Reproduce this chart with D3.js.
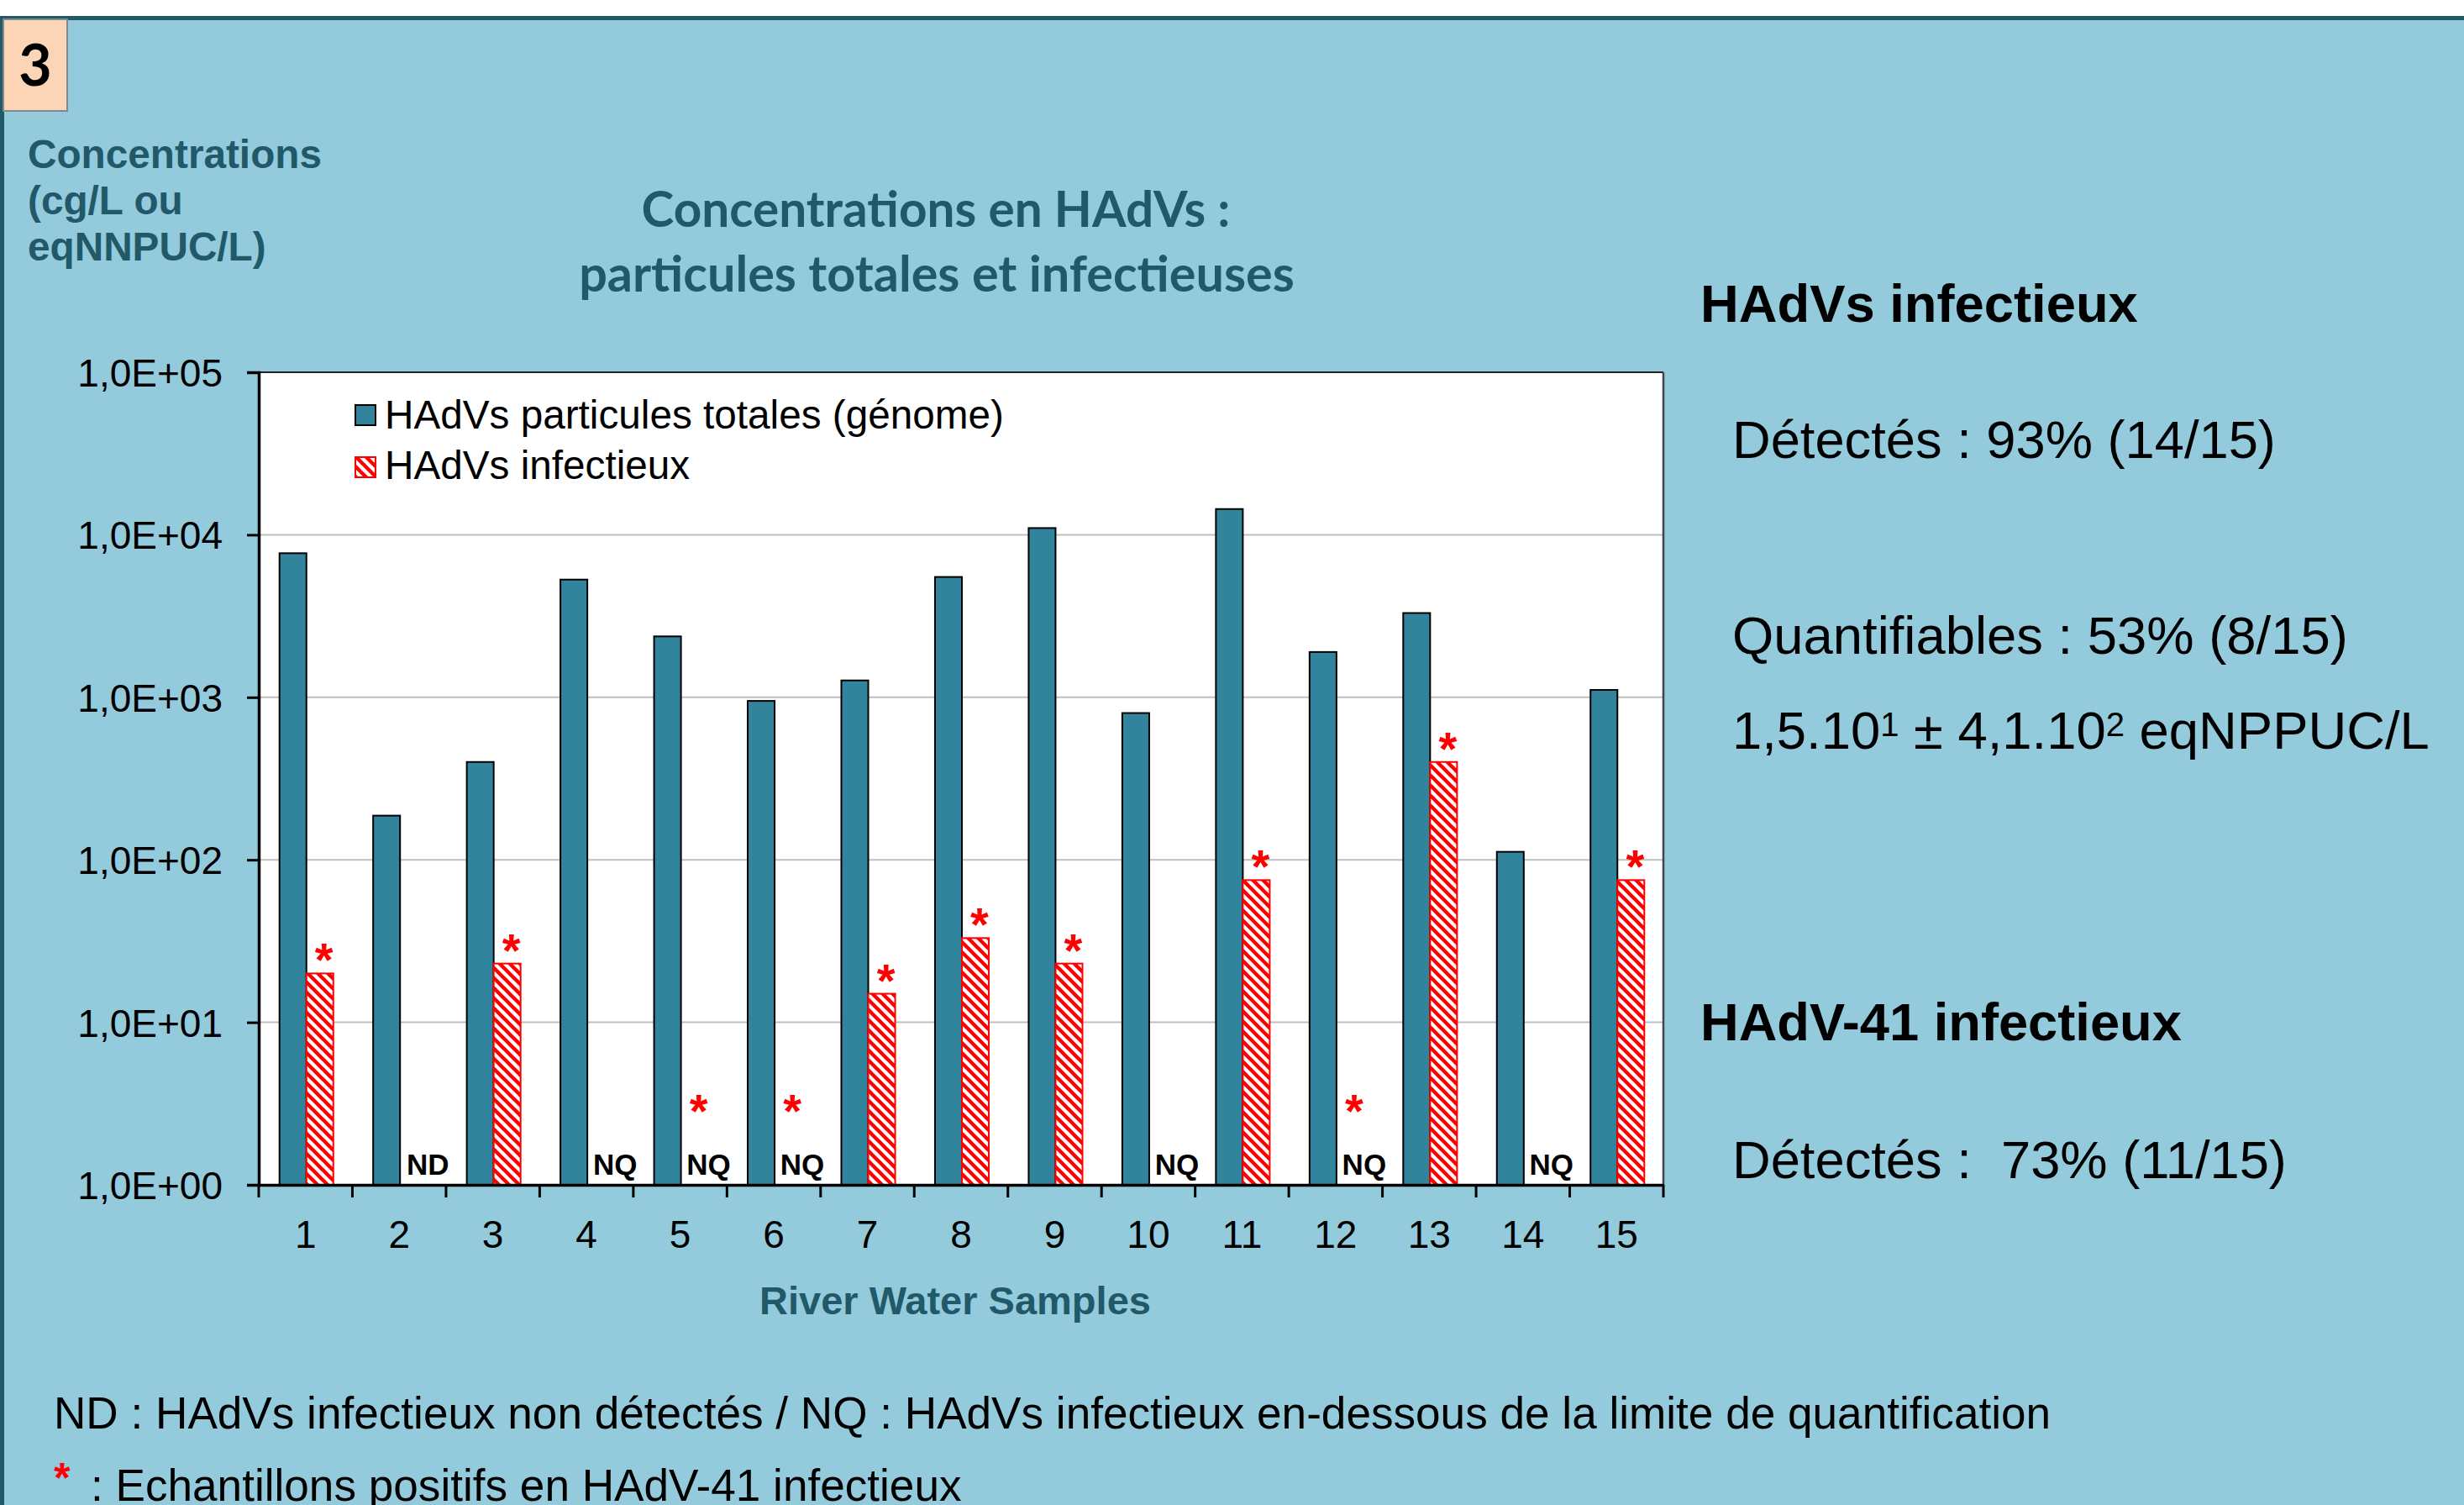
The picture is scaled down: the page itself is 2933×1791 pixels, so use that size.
<!DOCTYPE html>
<html>
<head>
<meta charset="utf-8">
<script src="https://cdn.jsdelivr.net/npm/d3@7"></script>
<style>
  html, body { margin: 0; padding: 0; background: #ffffff; }
  svg { display: block; }
  text { white-space: pre; }
</style>
</head>
<body>
<svg id="chart" width="2933" height="1791"></svg>
<script>
// ---------------- DATA ----------------
const samples = ["1","2","3","4","5","6","7","8","9","10","11","12","13","14","15"];
const totalGenome = [7700, 187, 400, 5300, 2370, 950, 1270, 5500, 11000, 800, 14400, 1900, 3300, 112, 1110];
const infectious = [20, null, 23, null, null, null, 15, 33, 23, null, 75, null, 400, null, 75];
const infectiousFlag = ["", "ND", "", "NQ", "NQ", "NQ", "", "", "", "NQ", "", "NQ", "", "NQ", ""];
const hadv41Positive = [true, false, true, false, true, true, true, true, true, false, true, true, true, false, true];
const yTickValues = [1, 10, 100, 1000, 10000, 100000];
const yTickLabels = ["1,0E+00", "1,0E+01", "1,0E+02", "1,0E+03", "1,0E+04", "1,0E+05"];
const seriesNames = ["HAdVs particules totales (génome)", "HAdVs infectieux"];

// ---------------- STYLE ----------------
const BG = "#93cbdd";
const TEAL = "#31849b";
const DARKTEAL = "#215968";
const RED = "#ff0000";
const ARIAL = "'Liberation Sans', Arial, sans-serif";
const CALIBRI = "Lato, 'Open Sans', sans-serif";

const svg = d3.select("#chart");

function fitWidth(sel, target) {
  const n = sel.node();
  const w = n.getComputedTextLength();
  const fs = parseFloat(sel.attr("font-size"));
  if (w > 0) sel.attr("font-size", fs * target / w);
}

// pattern
const defs = svg.append("defs");
const pat = defs.append("pattern").attr("id", "hatch")
  .attr("patternUnits", "userSpaceOnUse").attr("width", 12).attr("height", 12);
pat.append("rect").attr("width", 12).attr("height", 12).attr("fill", "#ffffff");
pat.append("path").attr("d", "M-3,-3 L15,15 M-3,9 L3,15 M9,-3 L15,3")
  .attr("stroke", RED).attr("stroke-width", 4.4).attr("fill", "none");

// background panel
svg.append("rect").attr("x", 0).attr("y", 0).attr("width", 2933).attr("height", 1791).attr("fill", "#ffffff");
svg.append("rect").attr("x", 0).attr("y", 19).attr("width", 2933).attr("height", 1772).attr("fill", BG);
svg.append("line").attr("x1", 0).attr("x2", 2933).attr("y1", 21.5).attr("y2", 21.5)
  .attr("stroke", DARKTEAL).attr("stroke-width", 5);
svg.append("line").attr("x1", 2.5).attr("x2", 2.5).attr("y1", 19).attr("y2", 1791)
  .attr("stroke", DARKTEAL).attr("stroke-width", 5);

// panel number box
svg.append("rect").attr("x", 4).attr("y", 23).attr("width", 76).attr("height", 109)
  .attr("fill", "#fbd5b5").attr("stroke", "#7f8a8f").attr("stroke-width", 2);
svg.append("text").attr("x", 42).attr("y", 102).attr("text-anchor", "middle")
  .attr("font-family", CALIBRI).attr("font-weight", 700).attr("font-size", 68)
  .attr("fill", "#000").text("3");

// y-axis title
const yTitleLines = ["Concentrations", "(cg/L ou", "eqNNPUC/L)"];
const yTitleW = [350, 205, 281];
yTitleLines.forEach((t, i) => {
  const s = svg.append("text").attr("x", 33).attr("y", 200 + i * 55)
    .attr("font-family", ARIAL).attr("font-weight", 700).attr("font-size", 46)
    .attr("fill", DARKTEAL).text(t);
  if (i === 0) fitWidth(s, yTitleW[0]);
});
// keep same size for all three lines
const yfs = svg.selectAll("text").filter(function() { return d3.select(this).text() === "Concentrations"; }).attr("font-size");
svg.selectAll("text").filter(function() { const t = d3.select(this).text(); return t === "(cg/L ou" || t === "eqNNPUC/L)"; }).attr("font-size", yfs);

// chart title
const t1 = svg.append("text").attr("x", 1114).attr("y", 270).attr("text-anchor", "middle")
  .attr("font-family", CALIBRI).attr("font-weight", 700).attr("font-size", 58)
  .attr("fill", DARKTEAL).text("Concentrations en HAdVs :");
fitWidth(t1, 701);
const t2 = svg.append("text").attr("x", 1115).attr("y", 347).attr("text-anchor", "middle")
  .attr("font-family", CALIBRI).attr("font-weight", 700).attr("font-size", 58)
  .attr("fill", DARKTEAL).text("particules totales et infectieuses");
fitWidth(t2, 852);

// ---------------- SCALES ----------------
const plotL = 308, plotR = 1980, plotT = 443, plotB = 1410;
const x = d3.scaleBand().domain(samples).range([plotL, plotR]).paddingInner(0).paddingOuter(0);
const inner = d3.scaleBand().domain(["total", "inf"]).range([0, x.bandwidth()]).paddingOuter(0.74).paddingInner(0);
const y = d3.scaleLog().domain([1, 100000]).range([plotB, plotT]);

// plot area
svg.append("rect").attr("x", plotL).attr("y", plotT).attr("width", plotR - plotL).attr("height", plotB - plotT)
  .attr("fill", "#ffffff");

// gridlines
svg.append("g").selectAll("line").data(yTickValues.slice(1, -1)).join("line")
  .attr("x1", plotL).attr("x2", plotR).attr("y1", d => y(d)).attr("y2", d => y(d))
  .attr("stroke", "#bfbfbf").attr("stroke-width", 2);

// plot border top/right
svg.append("line").attr("x1", plotL).attr("x2", plotR).attr("y1", plotT).attr("y2", plotT)
  .attr("stroke", "#222").attr("stroke-width", 2);
svg.append("line").attr("x1", plotR).attr("x2", plotR).attr("y1", plotT).attr("y2", plotB)
  .attr("stroke", "#444").attr("stroke-width", 2.5);

// bars total
const idx = samples.map((s, i) => i);
svg.append("g").selectAll("rect").data(idx).join("rect")
  .attr("x", i => x(samples[i]) + inner("total") + 1)
  .attr("width", inner.bandwidth())
  .attr("y", i => y(totalGenome[i]))
  .attr("height", i => y(1) - y(totalGenome[i]))
  .attr("fill", TEAL).attr("stroke", "#000").attr("stroke-width", 2);

// bars infectious
const infIdx = idx.filter(i => infectious[i] != null);
svg.append("g").selectAll("rect").data(infIdx).join("rect")
  .attr("x", i => x(samples[i]) + inner("inf") + 1)
  .attr("width", inner.bandwidth())
  .attr("y", i => y(infectious[i]))
  .attr("height", i => y(1) - y(infectious[i]))
  .attr("fill", "url(#hatch)").attr("stroke", RED).attr("stroke-width", 2);

// ND / NQ labels
const flagIdx = idx.filter(i => infectiousFlag[i] !== "");
svg.append("g").selectAll("text").data(flagIdx).join("text")
  .attr("x", i => x(samples[i]) + x.bandwidth() / 2 + 34)
  .attr("y", y(1) - 12)
  .attr("text-anchor", "middle")
  .attr("font-family", ARIAL).attr("font-weight", 700).attr("font-size", 35)
  .attr("fill", "#000")
  .text(i => infectiousFlag[i]);

// HAdV-41 stars
const starIdx = idx.filter(i => hadv41Positive[i]);
svg.append("g").selectAll("text").data(starIdx).join("text")
  .attr("x", i => x(samples[i]) + inner("inf") + inner.bandwidth() / 2 + 6)
  .attr("y", i => infectious[i] != null ? y(infectious[i]) + 3 : y(1) - 69)
  .attr("text-anchor", "middle")
  .attr("font-family", ARIAL).attr("font-weight", 700).attr("font-size", 56)
  .attr("fill", RED)
  .text("*");

// axes
const yAxis = d3.axisLeft(y).tickValues(yTickValues)
  .tickFormat((d, i) => yTickLabels[i]).tickSize(14).tickPadding(29);
const gy = svg.append("g").attr("transform", `translate(${plotL},0)`).call(yAxis);
gy.select(".domain").attr("stroke", "#000").attr("stroke-width", 3.5);
gy.selectAll(".tick line").attr("stroke", "#000").attr("stroke-width", 3);
gy.selectAll(".tick text").attr("font-family", ARIAL).attr("font-size", 46).attr("fill", "#000").attr("dy", "0.36em");

const xAxis = d3.axisBottom(x).tickSize(0).tickPadding(48);
const gx = svg.append("g").attr("transform", `translate(0,${plotB})`).call(xAxis);
gx.select(".domain").attr("stroke", "#000").attr("stroke-width", 3.5);
gx.selectAll(".tick text").attr("font-family", ARIAL).attr("font-size", 46).attr("fill", "#000").attr("dy", "0.71em").attr("y", 42);
// category boundary ticks
const bounds = samples.map(s => x(s)).concat([plotR]);
gx.append("g").selectAll("line").data(bounds).join("line")
  .attr("x1", d => d).attr("x2", d => d).attr("y1", 0).attr("y2", 15)
  .attr("stroke", "#000").attr("stroke-width", 3);

// x-axis title
svg.append("text").attr("x", 1137).attr("y", 1564).attr("text-anchor", "middle")
  .attr("font-family", ARIAL).attr("font-weight", 700).attr("font-size", 47)
  .attr("fill", DARKTEAL).text("River Water Samples");

// legend
const legend = svg.append("g");
legend.append("rect").attr("x", 423).attr("y", 482).attr("width", 24).attr("height", 24)
  .attr("fill", TEAL).attr("stroke", "#000").attr("stroke-width", 2);
legend.append("rect").attr("x", 423).attr("y", 544).attr("width", 24).attr("height", 24)
  .attr("fill", "url(#hatch)").attr("stroke", RED).attr("stroke-width", 2);
const legW = [737, null];
let legFs = 45;
seriesNames.forEach((n, i) => {
  const s = legend.append("text").attr("x", 458).attr("y", 510 + i * 60)
    .attr("font-family", ARIAL).attr("font-size", legFs).attr("fill", "#000").text(n);
  if (i === 0) { fitWidth(s, legW[0]); legFs = s.attr("font-size"); }
});

// right-hand text
function rt(xp, yp, txt, bold, fs, w) {
  const s = svg.append("text").attr("x", xp).attr("y", yp)
    .attr("font-family", ARIAL).attr("font-weight", bold ? 700 : 400)
    .attr("font-size", fs).attr("fill", "#000").text(txt);
  if (w) fitWidth(s, w);
  return s;
}
rt(2024, 383, "HAdVs infectieux", true, 62, 521);
rt(2062, 545, "Détectés : 93% (14/15)", false, 60, 647);
rt(2062, 778, "Quantifiables : 53% (8/15)", false, 60, 733);
const sci = svg.append("text").attr("x", 2062).attr("y", 891)
  .attr("font-family", ARIAL).attr("font-size", 60).attr("fill", "#000");
sci.append("tspan").text("1,5.10");
sci.append("tspan").attr("dy", "-0.37em").attr("font-size", "0.63em").text("1");
sci.append("tspan").attr("dy", "0.233em").text(" ± 4,1.10");
sci.append("tspan").attr("dy", "-0.37em").attr("font-size", "0.63em").text("2");
sci.append("tspan").attr("dy", "0.233em").text(" eqNPPUC/L");
fitWidth(sci, 830);
rt(2024, 1238, "HAdV-41 infectieux", true, 62, 573);
rt(2062, 1402, "Détectés :  73% (11/15)", false, 60, 660);

// footnotes
const f1 = svg.append("text").attr("x", 64).attr("y", 1700)
  .attr("font-family", ARIAL).attr("font-size", 49).attr("fill", "#000")
  .text("ND : HAdVs infectieux non détectés / NQ : HAdVs infectieux en-dessous de la limite de quantification");
fitWidth(f1, 2378);
svg.append("text").attr("x", 64).attr("y", 1776)
  .attr("font-family", ARIAL).attr("font-weight", 700).attr("font-size", 50).attr("fill", RED).text("*");
const f2 = svg.append("text").attr("x", 108).attr("y", 1786)
  .attr("font-family", ARIAL).attr("font-size", 49).attr("fill", "#000")
  .text(": Echantillons positifs en HAdV-41 infectieux");
fitWidth(f2, 1037);
</script>
</body>
</html>
